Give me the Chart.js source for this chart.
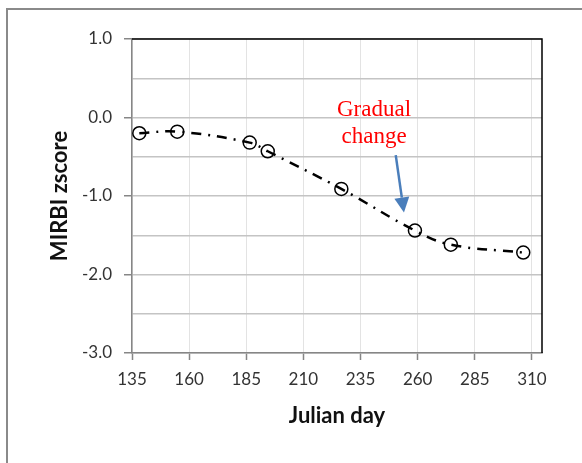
<!DOCTYPE html>
<html>
<head>
<meta charset="utf-8">
<script src="https://cdn.jsdelivr.net/npm/chart.js@4/dist/chart.umd.min.js"></script>
<style>
  html, body { margin: 0; padding: 0; background: #fff; }
  #wrap { width: 582px; height: 463px; }
</style>
</head>
<body>
<div id="wrap"><canvas id="myChart" width="582" height="463"></canvas></div>
<script>
// MIRBI z-score by Julian day
const julianDays = [138.2, 154.8, 186.5, 194.4, 226.6, 258.8, 274.5, 306.2];
const zscores = [-0.20, -0.18, -0.32, -0.43, -0.91, -1.44, -1.62, -1.72];
const xTickValues = [135, 160, 185, 210, 235, 260, 285, 310];

// note text + arrow, in data units
const noteLines = ['Gradual', 'change'];
const noteAt = { x: 240.9, y: 0.02 };
const arrowFrom = { x: 250.4, y: -0.48 };
const arrowTo = { x: 254.0, y: -1.21 };

const tickFont = { family: 'Lato', size: 17 };
const titleFont = { family: 'Lato', size: 22, weight: 'bold' };

// gray frame on the left and top of the figure
const framePlugin = {
    id: 'frame',
    beforeDraw(chart) {
        const ctx = chart.ctx;
        ctx.save();
        ctx.fillStyle = '#fff';
        ctx.fillRect(0, 0, chart.width, chart.height);
        ctx.strokeStyle = '#8a8a8a';
        ctx.lineWidth = 2;
        ctx.beginPath();
        ctx.moveTo(7, chart.height);
        ctx.lineTo(7, 9);
        ctx.lineTo(chart.width, 9);
        ctx.stroke();
        ctx.restore();
    },
    beforeDatasetsDraw(chart) {
        // black border on top and right of the plot area
        const { ctx, chartArea: a } = chart;
        ctx.save();
        ctx.strokeStyle = '#000';
        ctx.lineWidth = 1.5;
        ctx.beginPath();
        ctx.moveTo(a.left, a.top);
        ctx.lineTo(a.right, a.top);
        ctx.lineTo(a.right, a.bottom);
        ctx.stroke();
        ctx.restore();
    }
};

const notePlugin = {
    id: 'note',
    afterDraw(chart) {
        const { ctx, scales: { x, y } } = chart;
        ctx.save();
        ctx.fillStyle = '#ff0000';
        ctx.font = '23px "Liberation Serif", "Times New Roman", serif';
        ctx.textAlign = 'center';
        ctx.textBaseline = 'alphabetic';
        const tx = x.getPixelForValue(noteAt.x);
        const ty = y.getPixelForValue(noteAt.y);
        noteLines.forEach((t, i) => ctx.fillText(t, tx, ty + i * 27.5));

        const x0 = x.getPixelForValue(arrowFrom.x), y0 = y.getPixelForValue(arrowFrom.y);
        const x1 = x.getPixelForValue(arrowTo.x), y1 = y.getPixelForValue(arrowTo.y);
        const ang = Math.atan2(y1 - y0, x1 - x0);
        const headLen = 15, headHalf = 7.5;
        const bx = x1 - headLen * Math.cos(ang), by = y1 - headLen * Math.sin(ang);
        ctx.strokeStyle = '#4a7ebb';
        ctx.fillStyle = '#4a7ebb';
        ctx.lineWidth = 2.5;
        ctx.beginPath();
        ctx.moveTo(x0, y0);
        ctx.lineTo(bx, by);
        ctx.stroke();
        ctx.beginPath();
        ctx.moveTo(x1, y1);
        ctx.lineTo(bx + headHalf * Math.sin(ang), by - headHalf * Math.cos(ang));
        ctx.lineTo(bx - headHalf * Math.sin(ang), by + headHalf * Math.cos(ang));
        ctx.closePath();
        ctx.fill();
        ctx.restore();
    }
};

new Chart(document.getElementById('myChart'), {
    type: 'line',
    data: {
        datasets: [{
            data: julianDays.map((d, i) => ({ x: d, y: zscores[i] })),
            borderColor: '#000',
            borderWidth: 2.5,
            borderDash: [10, 7, 2, 7],
            tension: 0.4,
            fill: false,
            pointStyle: 'circle',
            pointRadius: 6.5,
            pointBorderWidth: 1.5,
            pointBorderColor: '#000',
            pointBackgroundColor: 'rgba(0,0,0,0)'
        }]
    },
    options: {
        responsive: false,
        animation: false,
        layout: { padding: { top: 39, right: 40, left: 0, bottom: 0 } },
        plugins: { legend: { display: false }, tooltip: { enabled: false } },
        scales: {
            x: {
                type: 'linear',
                min: 135,
                max: 314.4,
                afterBuildTicks: (scale) => { scale.ticks = xTickValues.map(v => ({ value: v })); },
                afterFit: (scale) => { scale.height = 110; },
                ticks: { font: tickFont, color: '#333', padding: 9, maxRotation: 0, autoSkip: false },
                grid: { color: '#e3e3e3', lineWidth: 1, tickColor: '#868686', tickLength: 7, tickWidth: 1.5 },
                border: { color: '#868686', width: 1.5 },
                title: { display: true, text: 'Julian day', font: titleFont, color: '#111', padding: { bottom: 34 } }
            },
            y: {
                min: -3,
                max: 1,
                ticks: {
                    stepSize: 0.5,
                    font: tickFont,
                    color: '#333',
                    padding: 12,
                    callback: (v) => Number.isInteger(v) ? v.toFixed(1) : ''
                },
                afterFit: (scale) => { scale.width = 132; },
                grid: {
                    color: '#c4c4c4',
                    lineWidth: 1.5,
                    tickLength: 8,
                    tickWidth: 1.5,
                    tickColor: (c) => Number.isInteger(c.tick.value) ? '#868686' : 'rgba(0,0,0,0)'
                },
                border: { color: '#868686', width: 1.5 },
                title: { display: true, text: 'MIRBI zscore', font: titleFont, color: '#111', padding: { top: 47 } }
            }
        }
    },
    plugins: [framePlugin, notePlugin]
});
</script>
</body>
</html>
